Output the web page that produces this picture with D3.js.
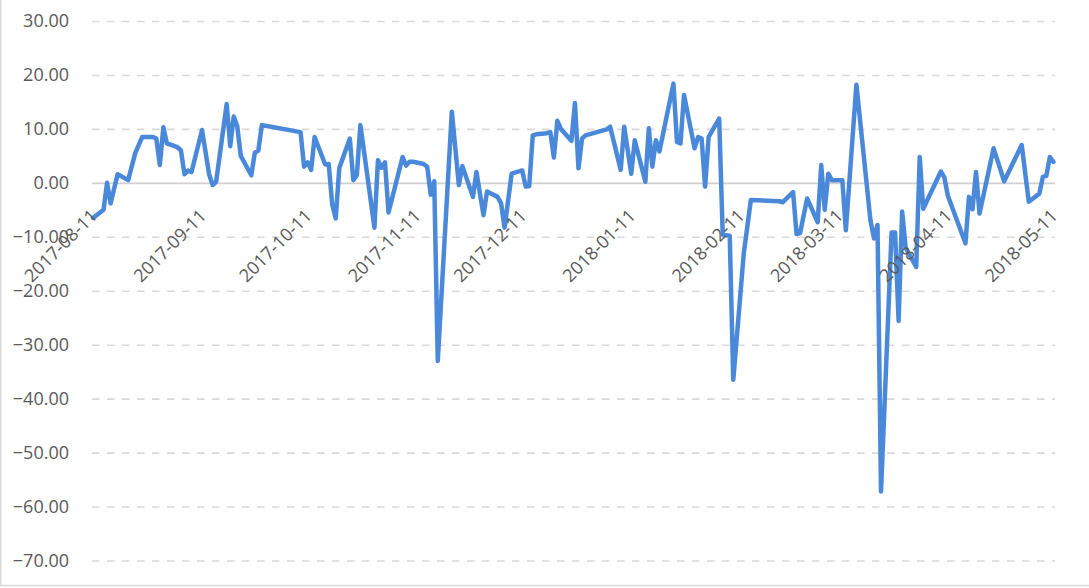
<!DOCTYPE html>
<html><head><meta charset="utf-8">
<script src="https://cdn.jsdelivr.net/npm/d3@7"></script>
<style>
html,body{margin:0;padding:0;background:#fff;}
svg{display:block;}
text{font-family:"Open Sans",sans-serif;}
</style></head><body>
<svg id="chart" width="1089" height="588"></svg>
<script>
const dates = [
"2017-08-11","2017-08-14","2017-08-15","2017-08-16","2017-08-18","2017-08-21","2017-08-23","2017-08-25","2017-08-28","2017-08-29",
"2017-08-30","2017-08-31","2017-09-01","2017-09-04","2017-09-05","2017-09-06","2017-09-07","2017-09-08","2017-09-11","2017-09-13",
"2017-09-14","2017-09-15","2017-09-18","2017-09-19","2017-09-20","2017-09-21","2017-09-22","2017-09-25","2017-09-26","2017-09-27",
"2017-09-28","2017-09-29","2017-10-09","2017-10-10","2017-10-11","2017-10-12","2017-10-13","2017-10-16","2017-10-17","2017-10-18",
"2017-10-19","2017-10-20","2017-10-23","2017-10-24","2017-10-25","2017-10-26","2017-10-27","2017-10-30","2017-10-31","2017-11-01",
"2017-11-02","2017-11-03","2017-11-07","2017-11-08","2017-11-09","2017-11-10","2017-11-13","2017-11-14","2017-11-15","2017-11-16",
"2017-11-17","2017-11-21","2017-11-23","2017-11-24","2017-11-27","2017-11-28","2017-11-30","2017-12-01","2017-12-04","2017-12-05",
"2017-12-06","2017-12-08","2017-12-11","2017-12-12","2017-12-13","2017-12-14","2017-12-15","2017-12-18","2017-12-19","2017-12-20",
"2017-12-21","2017-12-22","2017-12-25","2017-12-26","2017-12-27","2017-12-28","2017-12-29","2018-01-04","2018-01-05","2018-01-08",
"2018-01-09","2018-01-11","2018-01-12","2018-01-15","2018-01-16","2018-01-17","2018-01-18","2018-01-19","2018-01-23","2018-01-24",
"2018-01-25","2018-01-26","2018-01-29","2018-01-30","2018-01-31","2018-02-01","2018-02-02","2018-02-05","2018-02-06","2018-02-08",
"2018-02-09","2018-02-12","2018-02-14","2018-02-22","2018-02-23","2018-02-26","2018-02-27","2018-02-28","2018-03-02","2018-03-05",
"2018-03-06","2018-03-07","2018-03-08","2018-03-09","2018-03-12","2018-03-13","2018-03-16","2018-03-20","2018-03-21","2018-03-22",
"2018-03-23","2018-03-26","2018-03-27","2018-03-28","2018-03-29","2018-03-30","2018-04-02","2018-04-03","2018-04-04","2018-04-09",
"2018-04-10","2018-04-11","2018-04-16","2018-04-17","2018-04-18","2018-04-19","2018-04-20","2018-04-24","2018-04-27","2018-05-02",
"2018-05-04","2018-05-07","2018-05-08","2018-05-09","2018-05-10","2018-05-11"
];
const values = [
-6.5,-5.0,0.0,-3.8,1.6,0.5,5.5,8.5,8.5,8.2,
3.3,10.3,7.3,6.6,6.0,1.6,2.3,2.0,9.8,1.6,
-0.4,0.2,14.6,6.8,12.3,10.5,5.0,1.4,5.6,6.0,
10.7,10.6,9.4,3.0,3.8,2.4,8.5,3.4,3.5,-4.0,
-6.6,2.7,8.2,0.5,1.4,10.7,6.0,-8.3,4.2,2.8,
3.8,-5.5,4.8,3.2,3.9,3.9,3.5,3.0,-2.2,0.3,
-33.0,13.2,-0.4,3.1,-2.6,2.0,-6.0,-1.6,-2.6,-3.8,
-8.3,1.7,2.3,-0.7,-0.6,8.8,9.0,9.2,9.4,4.7,
11.5,10.0,7.8,14.8,2.7,8.2,8.8,9.9,10.4,2.4,
10.4,1.7,7.9,0.2,10.1,3.0,7.9,5.8,18.4,7.6,
7.3,16.3,6.4,8.5,8.2,-0.7,8.5,11.9,-9.6,-9.8,
-36.5,-13.0,-3.2,-3.4,-3.6,-1.7,-9.5,-9.3,-2.9,-7.3,
3.3,-5.0,1.7,0.5,0.5,-8.8,18.2,-7.0,-10.3,-7.8,
-57.2,-9.2,-9.2,-25.6,-5.3,-12.0,-15.6,4.8,-4.8,2.1,
1.0,-2.4,-11.2,-2.6,-4.9,2.0,-5.7,6.4,0.3,7.0,
-3.5,-2.0,1.1,1.3,4.8,3.9
];
const yTicks = [30,20,10,0,-10,-20,-30,-40,-50,-60,-70];
const xTickLabels = ["2017-08-11","2017-09-11","2017-10-11","2017-11-11","2017-12-11",
  "2018-01-11","2018-02-11","2018-03-11","2018-04-11","2018-05-11"];

const W = 1089, H = 588;
const plotLeft = 92, plotRight = 1055;
const parse = d3.timeParse("%Y-%m-%d");
const fmt = d3.timeFormat("%Y-%m-%d");
const data = dates.map((d,i)=>({date: parse(d), value: values[i]}));

const x = d3.scaleTime()
  .domain([parse(xTickLabels[0]), parse(xTickLabels[xTickLabels.length-1])])
  .range([93, 1053.4]);
const y = d3.scaleLinear().domain([-70, 30]).range([560.5, 21]);

const svg = d3.select("#chart");

// outer border (left and bottom visible)
svg.append("rect").attr("x",0.75).attr("y",-10).attr("width",W+10).attr("height",H+10-2.5)
  .attr("fill","none").attr("stroke","#d9d9d9").attr("stroke-width",1.5);

// y axis with gridlines
const yAxis = d3.axisLeft(y).tickValues(yTicks).tickSize(-(plotRight-plotLeft))
  .tickPadding(23).tickFormat(d3.format(".2f"));
const gy = svg.append("g").attr("transform",`translate(${plotLeft},0)`).call(yAxis);
gy.select(".domain").remove();
gy.selectAll(".tick line")
  .attr("stroke", d => d===0 ? "#d0d0d0" : "#d9d9d9")
  .attr("stroke-width", 1.6)
  .attr("stroke-dasharray", d => d===0 ? null : "7.5,7.5");
gy.selectAll(".tick text").attr("fill","#595959").style("font-size","18px")
  .style("font-family","'Open Sans',sans-serif");

// line
const line = d3.line().x(d=>x(d.date)).y(d=>y(d.value));
svg.append("path").datum(data).attr("d",line)
  .attr("fill","none").attr("stroke","#4a89d9").attr("stroke-width",4.5)
  .attr("stroke-linejoin","round").attr("stroke-linecap","round");

// x axis at zero (labels drawn over the series)
const xAxis = d3.axisBottom(x).tickValues(xTickLabels.map(parse)).tickSize(0).tickFormat(fmt);
const gx = svg.append("g").attr("transform",`translate(0,${y(0)})`).call(xAxis);
gx.select(".domain").remove();
gx.selectAll(".tick text")
  .attr("y",0).attr("dy",0).attr("x",0)
  .attr("text-anchor","end")
  .attr("transform","translate(5,34) rotate(-45)")
  .attr("fill","#595959").style("font-size","18px")
  .style("font-family","'Open Sans',sans-serif");
</script>
</body></html>
